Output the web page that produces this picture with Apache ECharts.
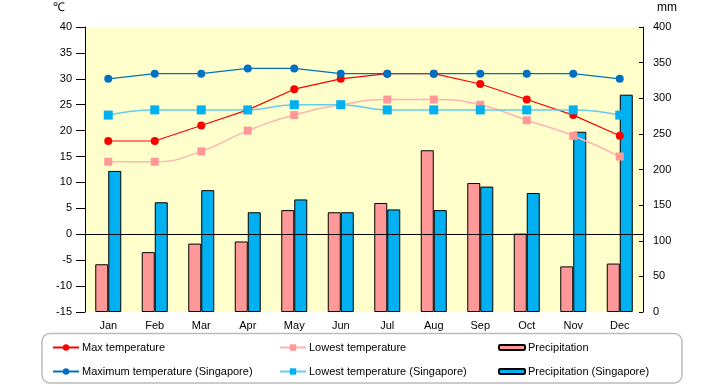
<!DOCTYPE html>
<html><head><meta charset="utf-8">
<script src="https://cdn.jsdelivr.net/npm/echarts@6/dist/echarts.min.js"></script>
<style>html,body{margin:0;padding:0;background:#fff}#c{width:720px;height:385px}</style>
</head><body><div id="c"></div>
<script>
const months = ['Jan','Feb','Mar','Apr','May','Jun','Jul','Aug','Sep','Oct','Nov','Dec'];
const maxTemp = [18,18,21,24,28,30,31,31,29,26,23,19];
const lowTemp = [14,14,16,20,23,25,26,26,25,22,19,15];
const precip = [67,84,96,99,143,140,153,227,181,110,64,68];
const maxTempSg = [30,31,31,32,32,31,31,31,31,31,31,30];
const lowTempSg = [23,24,24,24,25,25,24,24,24,24,24,23];
const precipSg = [198,154,171,140,158,140,144,143,176,167,253,305];
const tempTicks = {min:-15,max:40,interval:5};
const mmTicks = {min:0,max:400,interval:50};

const FONT = 'Liberation Sans';
const names = ['Max temperature','Lowest temperature','Precipitation','Maximum temperature (Singapore)','Lowest temperature (Singapore)','Precipitation (Singapore)'];
const legPos = [[52,342],[279,342],[498,342],[52,366],[279,366],[498,366]];

const chart = echarts.init(document.getElementById('c'));
const legends = names.map((n,i)=>({
  data:[n], left:legPos[i][0], top:legPos[i][1], padding:0,
  itemWidth:26, itemHeight:(i%3===2)?5:8, itemGap:0,
  textStyle:{fontFamily:FONT,fontSize:11,color:'#000',padding:[0,0,0,-2]},
  selectedMode:false
}));
chart.setOption({
  animation:false,
  textStyle:{fontFamily:FONT},
  grid:{left:85,right:77,top:27,bottom:73,show:true,backgroundColor:'#FFFFCC',borderWidth:0},
  legend:legends,
  graphic:[
    {type:'rect',shape:{x:42,y:333.5,width:640,height:49.5,r:8},style:{fill:'none',stroke:'#BBBBBB',lineWidth:1.5},z:-1},
    {type:'text',left:53,top:2,style:{text:'℃',fontFamily:FONT,fontSize:12,fill:'#000'}},
    {type:'text',left:657,top:2,style:{text:'mm',fontFamily:FONT,fontSize:12,fill:'#000'}}
  ],
  xAxis:{type:'category',data:months,
    axisLine:{show:false},axisTick:{show:false},
    axisLabel:{color:'#000',fontSize:11,fontFamily:FONT,margin:8}},
  yAxis:[
    {type:'value',min:tempTicks.min,max:tempTicks.max,interval:tempTicks.interval,position:'left',
      axisLine:{show:true,lineStyle:{color:'#000',width:1}},
      axisTick:{show:true,inside:false,length:9,lineStyle:{color:'#000'}},
      splitLine:{show:false},
      axisLabel:{color:'#000',fontSize:11,fontFamily:FONT,margin:13}},
    {type:'value',min:mmTicks.min,max:mmTicks.max,interval:mmTicks.interval,position:'right',
      axisLine:{show:true,lineStyle:{color:'#000',width:1}},
      axisTick:{show:true,inside:true,length:4,lineStyle:{color:'#000'}},
      splitLine:{show:false},
      axisLabel:{color:'#000',fontSize:11,fontFamily:FONT,margin:10}}
  ],
  series:[
    {name:names[2],type:'bar',yAxisIndex:1,data:precip,barWidth:13,barGap:'0%',
      itemStyle:{color:'#FF9999',borderColor:'#000',borderWidth:1}},
    {name:names[5],type:'bar',yAxisIndex:1,data:precipSg,barWidth:13,barGap:'0%',
      itemStyle:{color:'#00B0F0',borderColor:'#000',borderWidth:1}},
    {name:names[0],type:'line',yAxisIndex:0,data:maxTemp,symbol:'circle',symbolSize:8,z:5,
      lineStyle:{color:'#FF0000',width:1.2},itemStyle:{color:'#FF0000'},
      markLine:{silent:true,symbol:'none',label:{show:false},lineStyle:{color:'#000',type:'solid',width:1.2},data:[{yAxis:0}],z:4}},
    {name:names[1],type:'line',yAxisIndex:0,data:lowTemp,symbol:'rect',symbolSize:8,smooth:true,z:5,
      lineStyle:{color:'#FFB3B3',width:1.5},itemStyle:{color:'#FF9999'}},
    {name:names[3],type:'line',yAxisIndex:0,data:maxTempSg,symbol:'circle',symbolSize:8,z:5,
      lineStyle:{color:'#0070C0',width:1.2},itemStyle:{color:'#0070C0'}},
    {name:names[4],type:'line',yAxisIndex:0,data:lowTempSg,symbol:'rect',symbolSize:9,smooth:true,z:5,
      lineStyle:{color:'#66CCEE',width:1.5},itemStyle:{color:'#00B0F0'}}
  ]
});
</script></body></html>
